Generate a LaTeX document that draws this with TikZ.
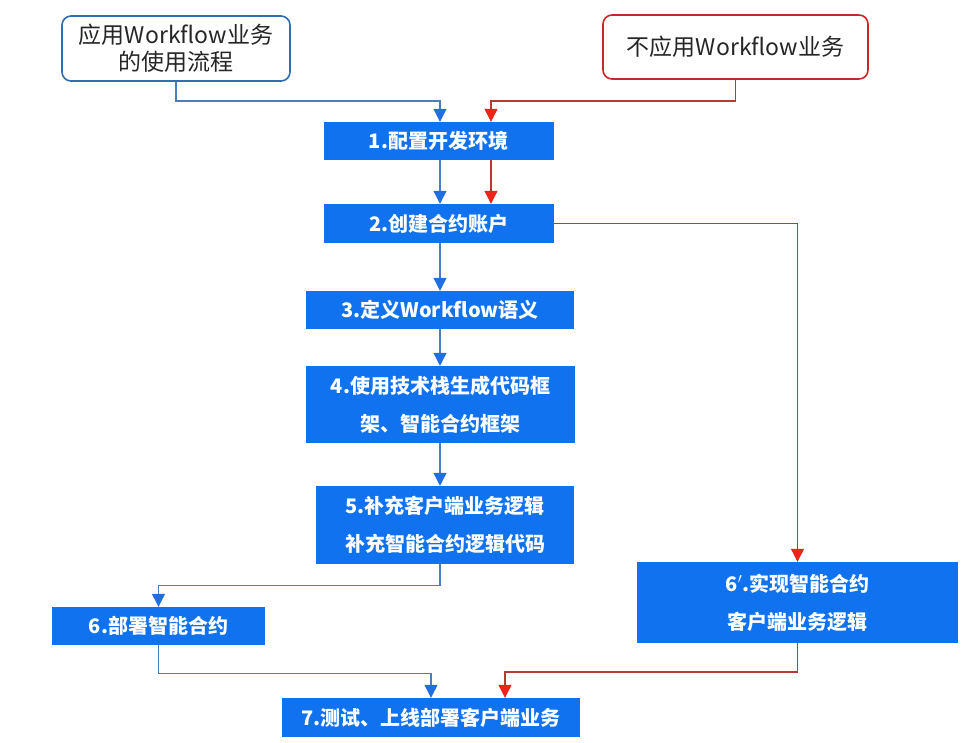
\documentclass[tikz,border=0pt]{standalone}
\usepackage{fontspec}
\setmainfont{Noto Sans CJK SC}
\usetikzlibrary{arrows.meta}

\definecolor{boxblue}{HTML}{1072EE}
\definecolor{edgeblue}{HTML}{2F6EB0}
\definecolor{lineblue}{HTML}{4A7DC0}
\definecolor{tipblue}{HTML}{1F6FE0}
\definecolor{edgered}{HTML}{C62828}
\definecolor{linered}{HTML}{B83A32}
\definecolor{tipred}{HTML}{EE2418}

\begin{document}
\begin{tikzpicture}[
    x=1pt, y=-1pt,
    start/.style={rectangle, rounded corners=9pt, draw, line width=1.6pt,
                  fill=white, align=center, text=black!85,
                  font=\fontsize{23}{27}\selectfont, inner sep=0pt},
    stage/.style={rectangle, fill=boxblue, text=white, align=center,
                  font=\fontsize{20}{38}\selectfont\bfseries, inner sep=0pt},
    barrow/.style={draw=lineblue, line width=1.1pt,
                   -{Triangle[width=13pt,length=13pt,color=tipblue]}},
    rarrow/.style={draw=linered, line width=1.1pt,
                   -{Triangle[width=13pt,length=13pt,color=tipred]}}
]
\useasboundingbox (0,0) rectangle (965,742);

% Ausgangspunkte
\node[start, draw=edgeblue, minimum width=228pt, minimum height=65pt] (wf)
    at (176,48.5) {应用Workflow业务\\的使用流程};
\node[start, draw=edgered, minimum width=265pt, minimum height=64pt] (nowf)
    at (735.5,47) {不应用Workflow业务};

% Schritte
\node[stage, minimum width=230pt, minimum height=38pt] (s1) at (438.5,141)   {1.配置开发环境};
\node[stage, minimum width=230pt, minimum height=39pt] (s2) at (439,223.5)   {2.创建合约账户};
\node[stage, minimum width=268pt, minimum height=38pt] (s3) at (440,310)     {3.定义Workflow语义};
\node[stage, minimum width=269pt, minimum height=77pt] (s4) at (440.5,404.5) {4.使用技术栈生成代码框\\架、智能合约框架};
\node[stage, minimum width=258pt, minimum height=78pt] (s5) at (445,525)     {5.补充客户端业务逻辑\\补充智能合约逻辑代码};
\node[stage, minimum width=213pt, minimum height=38pt] (s6) at (158.5,626)   {6.部署智能合约};
\node[stage, minimum width=321pt, minimum height=81pt] (s6b) at (797.5,602.5) {6$'$.实现智能合约\\客户端业务逻辑};
\node[stage, minimum width=298pt, minimum height=39pt] (s7) at (431,717.5)   {7.测试、上线部署客户端业务};

% Hilfspunkte
\coordinate (bl) at (440,101);
\coordinate (rl) at (491,101);
\coordinate (r7) at (505,672);

% blauer Pfad
\draw[barrow] (wf.south) |- (bl) -- (bl |- s1.north);
\draw[barrow] (bl |- s1.south) -- (bl |- s2.north);
\draw[barrow] (bl |- s2.south) -- (bl |- s3.north);
\draw[barrow] (bl |- s3.south) -- (bl |- s4.north);
\draw[barrow] (bl |- s4.south) -- (bl |- s5.north);
\draw[barrow] (bl |- s5.south) -- ++(0,21) -| (s6.north);
\draw[barrow] (s6.south) -- ++(0,28) -| (s7.north);

% roter Pfad
\draw[rarrow] (nowf.south) |- (rl) -- (rl |- s1.north);
\draw[rarrow] (rl |- s1.south) -- (rl |- s2.north);
\draw[rarrow] (s2.east) -| (s6b.north);
\draw[rarrow] (s6b.south) |- (r7) -- (r7 |- s7.north);

\end{tikzpicture}
\end{document}
